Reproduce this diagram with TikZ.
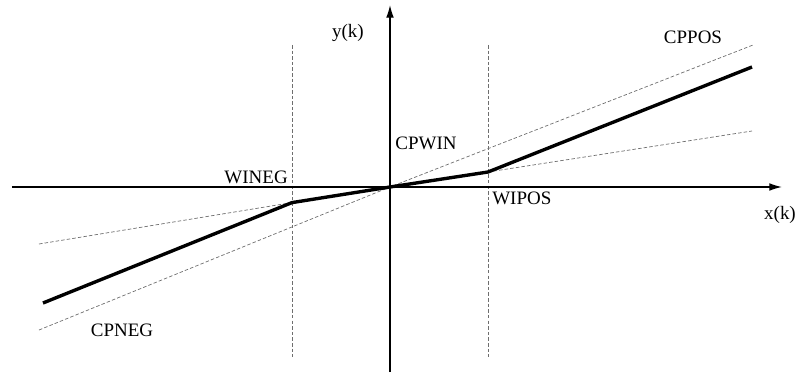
\documentclass[tikz,border=0pt]{standalone}
\usepackage{fontspec}
\setmainfont{Liberation Serif}
\usetikzlibrary{arrows.meta, calc}
\definecolor{Guide}{RGB}{110, 110, 110}

\begin{document}
\begin{tikzpicture}[
    axis/.style={black, line width=0.9pt},
    guide/.style={Guide, line width=0.5pt, dash pattern=on 2.5pt off 1.5pt},
    curve/.style={black, line width=2.4pt, line join=round},
    lbl/.style={font=\fontsize{13.5}{16}\selectfont, inner sep=0pt}
]

% Frame
\useasboundingbox (-9.75,-4.675) rectangle (10.25,4.675);

% Origin and window limits
\coordinate (O) at (0,0);
\coordinate (WN) at (-2.45,-0.39);
\coordinate (WP) at (2.45,0.375);

% Window bounds
\draw[guide] (-2.45,3.55) -- (-2.45,-4.25);
\draw[guide] (2.45,3.55) -- (2.45,-4.25);

% Outer gain lines through origin
\draw[guide] (-8.775,-3.575) -- (O) -- (9.075,3.55);

% Window gain extended
\draw[guide] (-8.775,-1.425) -- (WN);
\draw[guide] (WP) -- (9.05,1.4);

% Axes
\draw[axis, -{Latex[length=9pt, width=5.5pt]}] (-9.45,0) -- (9.8,0);
\draw[axis, -{Latex[length=9pt, width=5.5pt]}] (0,-4.625) -- (0,4.55);

% Characteristic
\draw[curve] (-8.675,-2.9) -- (WN) -- (O) -- (WP) -- (9.05,3.0);

% Labels
\node[lbl] (yk) at (-1.05,3.85) {y(k)};
\node[lbl] (xk) at (9.75,-0.7) {x(k)};
\node[lbl, anchor=south east] (wineg) at (-2.55,0.08) {WINEG};
\node[lbl, anchor=north west] (wipos) at (2.55,-0.12) {WIPOS};
\node[lbl] (cpwin) at (0.9,1.1) {CPWIN};
\node[lbl] (cppos) at (7.575,3.75) {CPPOS};
\node[lbl] (cpneg) at (-6.7,-3.575) {CPNEG};

\end{tikzpicture}
\end{document}
